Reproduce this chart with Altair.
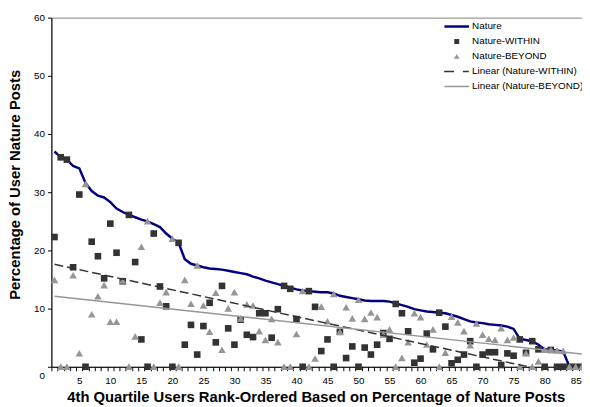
import altair as alt
import pandas as pd

# ---------------- data ----------------
ranks = list(range(1, 87))

nature = [37.0, 36.0, 35.6, 34.5, 34.1, 31.6, 30.2, 29.4, 29.1, 28.3,
          27.2, 26.6, 26.1, 25.7, 25.3, 25.0, 24.5, 24.0, 22.9, 22.0,
          21.3, 18.5, 17.7, 17.4, 17.1, 16.9, 16.8, 16.7, 16.5, 16.3,
          16.1, 15.9, 15.5, 15.2, 14.8, 14.5, 14.2, 13.9, 13.6, 13.3,
          13.1, 13.0, 12.9, 12.8, 12.8, 12.6, 12.2, 12.0, 11.8, 11.6,
          11.4, 11.3, 11.3, 11.3, 11.2, 10.9, 10.6, 10.3, 9.9, 9.7,
          9.5, 9.4, 9.3, 9.2, 8.9, 8.6, 8.2, 7.8, 7.6, 7.5,
          7.3, 7.2, 7.1, 6.9, 6.5, 4.8, 4.6, 4.4, 3.8, 3.0,
          2.9, 2.8, 2.6, 0.0, 0.0, 0.0]

within = [22.3, 36.0, 35.6, 17.1, 29.6, 0.0, 21.5, 19.0, 15.2, 24.6,
          19.6, 14.7, 26.1, 18.0, 4.7, 0.0, 22.9, 13.8, 10.4, 0.0,
          21.3, 3.8, 7.2, 2.1, 7.0, 11.0, 4.2, 13.9, 6.6, 3.8,
          8.1, 5.5, 5.1, 9.2, 9.2, 5.0, 9.9, 13.9, 13.4, 8.2,
          0.0, 13.0, 10.3, 2.7, 4.7, 0.0, 6.0, 1.5, 3.5, 0.0,
          3.3, 2.1, 3.8, 5.8, 4.8, 10.8, 9.2, 6.1, 0.7, 1.4,
          5.7, 3.0, 9.3, 6.9, 0.6, 1.2, 2.1, 4.4, 0.0, 2.1,
          2.5, 2.5, 0.3, 2.3, 1.9, 4.7, 2.4, 4.4, 3.0, 0.0,
          2.9, 0.0, 0.0, 0.0, 0.0, 0.0]

beyond = [14.9, 0.0, 0.0, 15.7, 2.3, 31.4, 9.0, 12.1, 14.0, 7.7,
          7.7, 14.8, 0.0, 5.2, 20.6, 25.0, 0.0, 11.0, 12.8, 22.0,
          0.0, 14.9, 10.8, 17.4, 10.5, 6.0, 12.7, 2.9, 10.0, 12.8,
          8.3, 10.7, 10.5, 6.1, 4.6, 8.2, 4.2, 0.0, 0.0, 5.6,
          13.0, 0.0, 1.4, 10.3, 7.8, 12.5, 6.0, 10.2, 8.3, 11.5,
          8.2, 9.3, 8.5, 5.5, 6.4, 0.0, 1.5, 4.2, 9.2, 8.5,
          3.8, 6.4, 0.0, 2.4, 8.6, 7.6, 6.1, 3.7, 7.4, 5.5,
          4.8, 4.6, 6.6, 4.6, 5.0, 0.0, 2.3, 0.0, 0.9, 2.9,
          2.9, 2.8, 2.7, 0.0, 0.0, 0.0]

series_names = ["Nature", "Nature-WITHIN", "Nature-BEYOND",
                "Linear (Nature-WITHIN)", "Linear (Nature-BEYOND)"]
series_colors = ["#000080", "#333333", "#969696", "#333333", "#969696"]
series_widths = [2.5, 0, 0, 1.5, 1.5]

x_label_values = [5, 10, 15, 20, 25, 30, 35, 40, 45, 50, 55, 60, 65, 70, 75, 80, 85]
y_tick_values = [0, 10, 20, 30, 40, 50, 60]

x_title = "4th Quartile Users Rank-Ordered Based on Percentage of Nature Posts"
y_title = "Percentage of User Nature Posts"

# ---------------- tables ----------------
df_line = pd.DataFrame({"rank": ranks, "pct": nature, "series": "Nature"})
df_pts = pd.DataFrame({
    "rank": ranks + ranks,
    "pct": within + beyond,
    "series": ["Nature-WITHIN"] * len(ranks) + ["Nature-BEYOND"] * len(ranks),
})

FONT = "Liberation Sans"

# symbol paths (unit box -1..1 scaled by sqrt(size))
line_path = "M-5,0H5"
dash_path = "M-5.1,0H-1.1M2.5,0H4.9"
square_path = "M-1,-1H1V1H-1Z"
tri_path = "M0,-1.05L1.15,0.95H-1.15Z"
series_shapes = [line_path, square_path, tri_path, dash_path, line_path]

# category boundaries carry the small ticks, labels sit on category centres
x_bounds = [r - 0.5 for r in ranks] + [ranks[-1] + 0.5]
label_expr = (f"indexof({x_label_values}, datum.value + 0.5) >= 0 ? "
              f"format(datum.value + 0.5, 'd') : ''")

x_enc = alt.X(
    "rank:Q",
    scale=alt.Scale(domain=[0.5, 86.5], nice=False, zero=False),
    axis=alt.Axis(values=x_bounds, labelExpr=label_expr, labelOffset=3.15,
                  tickSize=4, labelPadding=5, labelFlush=False, labelOverlap=False,
                  grid=False, title=x_title, titleX=268, titleY=35,
                  titleAlign="center", titleBaseline="alphabetic"),
)
y_enc = alt.Y(
    "pct:Q",
    scale=alt.Scale(domain=[0, 60], nice=False),
    axis=alt.Axis(values=y_tick_values, tickSize=4, labelPadding=3, grid=False,
                  labelOffset={"condition": {"test": "datum.value == 0", "value": 9}, "value": 0},
                  title=y_title, titleAngle=-90, titleX=-37, titleY=169,
                  titleAlign="center", titleBaseline="middle"),
)

nature_line = alt.Chart(df_line).mark_line(color="#000080", strokeWidth=2.5).encode(
    x=x_enc, y=y_enc)

legend = alt.Legend(
    title=None, orient="none", legendX=406, legendY=4, direction="vertical",
    labelFont=FONT, labelFontSize=10, labelColor="black", labelOffset=10.5,
    rowPadding=5.2, gridAlign="all", symbolSize=25, padding=0, symbolOpacity=1,
    labelLimit=200,
)

points = alt.Chart(df_pts).mark_point(filled=True, size=45, opacity=1).encode(
    x=x_enc, y=y_enc,
    fill=alt.Fill("series:N", scale=alt.Scale(domain=series_names, range=series_colors),
                  legend=legend),
    stroke=alt.Stroke("series:N", scale=alt.Scale(domain=series_names, range=series_colors),
                      legend=legend),
    strokeWidth=alt.StrokeWidth("series:N",
                                scale=alt.Scale(type="ordinal", domain=series_names, range=series_widths),
                                legend=legend),
    shape=alt.Shape("series:N", scale=alt.Scale(domain=series_names, range=series_shapes),
                    legend=legend),
)

trend_w = alt.Chart(df_pts).transform_filter(
    alt.datum.series == "Nature-WITHIN"
).transform_regression("rank", "pct", extent=[1, 86]).mark_line(
    color="#333333", strokeWidth=1.5, strokeDash=[9, 4], clip=True
).encode(x=x_enc, y=y_enc)

trend_b = alt.Chart(df_pts).transform_filter(
    alt.datum.series == "Nature-BEYOND"
).transform_regression("rank", "pct", extent=[1, 86]).mark_line(
    color="#969696", strokeWidth=1.5, clip=True
).encode(x=x_enc, y=y_enc)

chart = alt.layer(nature_line, points, trend_w, trend_b).properties(
    width=541, height=354,
    padding={"left": 44, "top": 7, "right": -3, "bottom": 38},
    autosize=alt.AutoSizeParams(type="none"),
).configure_view(
    stroke="#808080", strokeWidth=1
).configure_axis(
    domainColor="black", tickColor="black", labelColor="black",
    labelFont=FONT, labelFontSize=10, titleFont=FONT, titleFontSize=15,
    titleFontWeight="bold", titleColor="black", domainWidth=1, tickWidth=1,
)

chart.save("out.html", embed_options={"renderer": "svg", "actions": False})
